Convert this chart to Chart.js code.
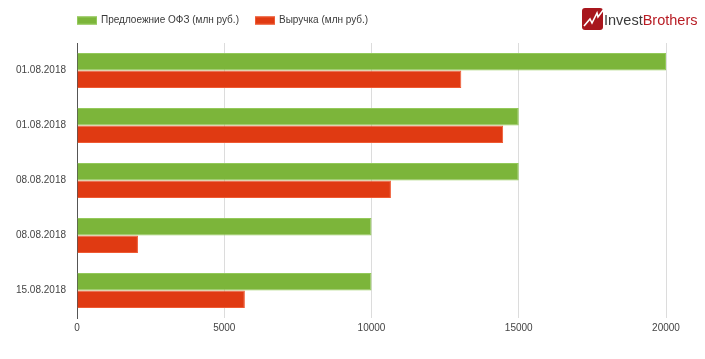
<!DOCTYPE html>
<html>
<head>
<meta charset="utf-8">
<script src="https://cdn.jsdelivr.net/npm/chart.js@4/dist/chart.umd.min.js"></script>
<style>
html,body{margin:0;padding:0;background:#fff;}
#wrap{width:705px;height:359px;position:relative;}
</style>
</head>
<body>
<div id="wrap"><canvas id="c" width="705" height="359"></canvas></div>
<script>
const categories = ["01.08.2018", "01.08.2018", "08.08.2018", "08.08.2018", "15.08.2018"];
const supplyValues = [20000, 15000, 15000, 10000, 10000];
const revenueValues = [13050, 14470, 10660, 2070, 5700];
const seriesNames = ["Предлоежние ОФЗ (млн руб.)", "Выручка (млн руб.)"];
const xTicks = [0, 5000, 10000, 15000, 20000];

const GREEN = "#7cb53a", GREEN_B = "#93c95a";
const RED = "#e03a12", RED_B = "#ef5a33";
const FONT = "'Liberation Sans', Arial, sans-serif";

const legendAndLogo = {
  id: "legendAndLogo",
  afterDraw(chart) {
    const ctx = chart.ctx;
    ctx.save();
    // legend
    ctx.font = "10px " + FONT;
    ctx.textBaseline = "middle";
    ctx.textAlign = "left";
    const items = [
      {x: 77, color: GREEN, border: GREEN_B, text: seriesNames[0]},
      {x: 255, color: RED, border: RED_B, text: seriesNames[1]}
    ];
    items.forEach(it => {
      ctx.fillStyle = it.color;
      ctx.fillRect(it.x, 16.5, 20, 8);
      ctx.strokeStyle = it.border;
      ctx.lineWidth = 1;
      ctx.strokeRect(it.x + 0.5, 17, 19, 7);
      ctx.fillStyle = "#3a3a3a";
      ctx.fillText(it.text, it.x + 24, 20.5);
    });
    // logo icon
    const ix = 582, iy = 8, iw = 21, ih = 22, r = 3;
    ctx.fillStyle = "#a8161d";
    ctx.beginPath();
    ctx.moveTo(ix + r, iy);
    ctx.lineTo(ix + iw - r, iy);
    ctx.quadraticCurveTo(ix + iw, iy, ix + iw, iy + r);
    ctx.lineTo(ix + iw, iy + ih - r);
    ctx.quadraticCurveTo(ix + iw, iy + ih, ix + iw - r, iy + ih);
    ctx.lineTo(ix + r, iy + ih);
    ctx.quadraticCurveTo(ix, iy + ih, ix, iy + ih - r);
    ctx.lineTo(ix, iy + r);
    ctx.quadraticCurveTo(ix, iy, ix + r, iy);
    ctx.closePath();
    ctx.fill();
    ctx.strokeStyle = "#fff";
    ctx.lineWidth = 1.6;
    ctx.beginPath();
    ctx.moveTo(ix + 2, iy + ih - 4);
    ctx.lineTo(ix + 8, iy + 11);
    ctx.lineTo(ix + 10, iy + 15);
    ctx.lineTo(ix + 15, iy + 5);
    ctx.lineTo(ix + 16, iy + 9);
    ctx.lineTo(ix + iw + 1, iy + 1);
    ctx.stroke();
    // logo text
    ctx.font = "14.5px " + FONT;
    ctx.textBaseline = "alphabetic";
    ctx.fillStyle = "#3a3a3a";
    ctx.fillText("Invest", 604, 25);
    const w = ctx.measureText("Invest").width;
    ctx.fillStyle = "#b81c24";
    ctx.fillText("Brothers", 604 + w, 25);
    ctx.restore();
  }
};

new Chart(document.getElementById("c"), {
  type: "bar",
  data: {
    labels: categories,
    datasets: [
      {label: seriesNames[0], data: supplyValues, backgroundColor: GREEN, borderColor: GREEN_B, borderWidth: 1},
      {label: seriesNames[1], data: revenueValues, backgroundColor: RED, borderColor: RED_B, borderWidth: 1}
    ]
  },
  options: {
    indexAxis: "y",
    responsive: false,
    animation: false,
    layout: {padding: {left: 0, right: 39, top: 43, bottom: 0}},
    categoryPercentage: 0.64,
    barPercentage: 1,
    plugins: {legend: {display: false}, tooltip: {enabled: false}},
    scales: {
      x: {
        min: 0, max: 20000,
        afterFit(s) { s.height = 41; },
        afterBuildTicks(s) { s.ticks = xTicks.map(v => ({value: v})); },
        grid: {color: "#dcdcdc", drawTicks: false},
        border: {display: false},
        ticks: {font: {size: 10, family: FONT}, color: "#444", padding: 4, callback: v => String(v)}
      },
      y: {
        afterFit(s) { s.width = 77; },
        grid: {display: false, drawTicks: false},
        border: {display: true, color: "#555", width: 1},
        ticks: {font: {size: 10, family: FONT}, color: "#444", padding: 11}
      }
    }
  },
  plugins: [legendAndLogo]
});
</script>
</body>
</html>
